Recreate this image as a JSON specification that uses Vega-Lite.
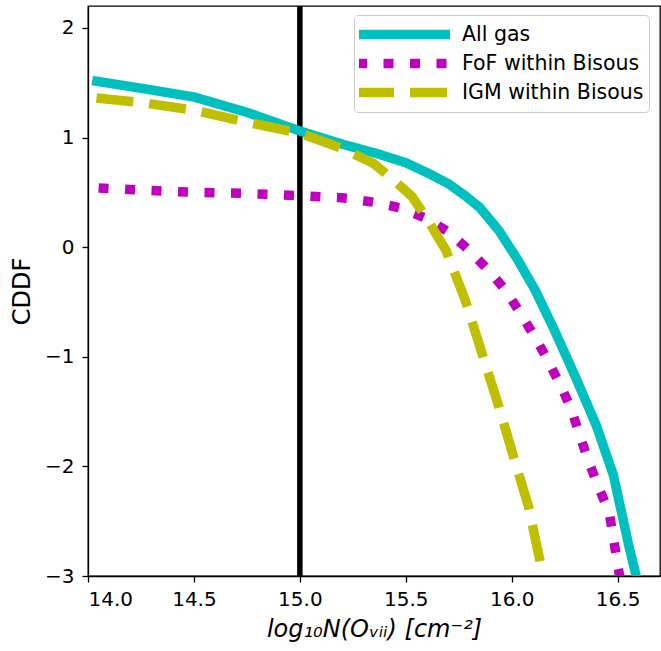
{
  "$schema": "https://vega.github.io/schema/vega-lite/v6.json",
  "width": 572,
  "height": 570,
  "autosize": {"type": "none"},
  "padding": {"left": 88, "top": 6, "right": 1, "bottom": 75},
  "background": "white",
  "config": {
    "font": "DejaVu Sans",
    "view": {"stroke": "black", "strokeWidth": 1.3},
    "axis": {
      "domain": true, "domainColor": "black", "domainWidth": 1.3,
      "ticks": true, "tickColor": "black", "tickWidth": 1.3, "tickSize": 6,
      "grid": false,
      "labelFont": "DejaVu Sans", "labelFontSize": 20, "labelColor": "black",
      "labelPadding": 7,
      "titleFont": "DejaVu Sans", "titleFontSize": 24, "titleFontWeight": "normal", "titleColor": "black"
    },
    "legend": {
      "labelFont": "DejaVu Sans", "labelFontSize": 20.5, "labelColor": "black", "labelLimit": 400
    }
  },
  "datasets": {
    "curves": [
      {"series": "All gas", "x": 14.02, "y": 1.52},
      {"series": "All gas", "x": 14.25, "y": 1.45},
      {"series": "All gas", "x": 14.5, "y": 1.37},
      {"series": "All gas", "x": 14.75, "y": 1.23},
      {"series": "All gas", "x": 15.0, "y": 1.06},
      {"series": "All gas", "x": 15.2, "y": 0.94},
      {"series": "All gas", "x": 15.37, "y": 0.85},
      {"series": "All gas", "x": 15.5, "y": 0.77},
      {"series": "All gas", "x": 15.6, "y": 0.68},
      {"series": "All gas", "x": 15.7, "y": 0.58},
      {"series": "All gas", "x": 15.78, "y": 0.47},
      {"series": "All gas", "x": 15.85, "y": 0.36},
      {"series": "All gas", "x": 15.94, "y": 0.15},
      {"series": "All gas", "x": 16.03, "y": -0.12},
      {"series": "All gas", "x": 16.11, "y": -0.39},
      {"series": "All gas", "x": 16.2, "y": -0.75},
      {"series": "All gas", "x": 16.3, "y": -1.18},
      {"series": "All gas", "x": 16.4, "y": -1.63},
      {"series": "All gas", "x": 16.48, "y": -2.08},
      {"series": "All gas", "x": 16.55, "y": -2.7},
      {"series": "All gas", "x": 16.6, "y": -3.1},
      {"series": "FoF within Bisous", "x": 14.05, "y": 0.54},
      {"series": "FoF within Bisous", "x": 14.25, "y": 0.52},
      {"series": "FoF within Bisous", "x": 14.5, "y": 0.5},
      {"series": "FoF within Bisous", "x": 14.75, "y": 0.49},
      {"series": "FoF within Bisous", "x": 15.0, "y": 0.47},
      {"series": "FoF within Bisous", "x": 15.2, "y": 0.45},
      {"series": "FoF within Bisous", "x": 15.35, "y": 0.41},
      {"series": "FoF within Bisous", "x": 15.47, "y": 0.36},
      {"series": "FoF within Bisous", "x": 15.6, "y": 0.26},
      {"series": "FoF within Bisous", "x": 15.7, "y": 0.14},
      {"series": "FoF within Bisous", "x": 15.8, "y": -0.03},
      {"series": "FoF within Bisous", "x": 15.89, "y": -0.21},
      {"series": "FoF within Bisous", "x": 15.97, "y": -0.39},
      {"series": "FoF within Bisous", "x": 16.04, "y": -0.6},
      {"series": "FoF within Bisous", "x": 16.11, "y": -0.82},
      {"series": "FoF within Bisous", "x": 16.17, "y": -1.03},
      {"series": "FoF within Bisous", "x": 16.23, "y": -1.26},
      {"series": "FoF within Bisous", "x": 16.28, "y": -1.47},
      {"series": "FoF within Bisous", "x": 16.32, "y": -1.71},
      {"series": "FoF within Bisous", "x": 16.36, "y": -1.94},
      {"series": "FoF within Bisous", "x": 16.41, "y": -2.19},
      {"series": "FoF within Bisous", "x": 16.46, "y": -2.42},
      {"series": "FoF within Bisous", "x": 16.48, "y": -2.65},
      {"series": "FoF within Bisous", "x": 16.5, "y": -2.9},
      {"series": "FoF within Bisous", "x": 16.52, "y": -3.1},
      {"series": "IGM within Bisous", "x": 14.04, "y": 1.36},
      {"series": "IGM within Bisous", "x": 14.25, "y": 1.32},
      {"series": "IGM within Bisous", "x": 14.5, "y": 1.25},
      {"series": "IGM within Bisous", "x": 14.75, "y": 1.14},
      {"series": "IGM within Bisous", "x": 15.0, "y": 1.04},
      {"series": "IGM within Bisous", "x": 15.2, "y": 0.9},
      {"series": "IGM within Bisous", "x": 15.35, "y": 0.76},
      {"series": "IGM within Bisous", "x": 15.45, "y": 0.6},
      {"series": "IGM within Bisous", "x": 15.53, "y": 0.46},
      {"series": "IGM within Bisous", "x": 15.6, "y": 0.26},
      {"series": "IGM within Bisous", "x": 15.69, "y": -0.03},
      {"series": "IGM within Bisous", "x": 15.78, "y": -0.48},
      {"series": "IGM within Bisous", "x": 15.86, "y": -0.97},
      {"series": "IGM within Bisous", "x": 15.94, "y": -1.46},
      {"series": "IGM within Bisous", "x": 16.01, "y": -1.92},
      {"series": "IGM within Bisous", "x": 16.08, "y": -2.37},
      {"series": "IGM within Bisous", "x": 16.12, "y": -2.74},
      {"series": "IGM within Bisous", "x": 16.16, "y": -3.1}
    ],
    "marker": [{"x": 15.0}]
  },
  "layer": [
    {
      "data": {"name": "marker"},
      "mark": {"type": "rule", "color": "black", "strokeWidth": 5.5},
      "encoding": {
        "x": {"field": "x", "type": "quantitative", "scale": {"domain": [14, 16.7], "nice": false, "zero": false}}
      }
    },
    {
      "data": {"name": "curves"},
      "mark": {"type": "line", "strokeWidth": 9.5, "clip": true, "strokeCap": "butt"},
      "encoding": {
        "x": {
          "field": "x", "type": "quantitative",
          "scale": {"domain": [14, 16.7], "nice": false, "zero": false},
          "axis": {"values": [14.0, 14.5, 15.0, 15.5, 16.0, 16.5], "format": ".1f", "title": "log₁₀N(Oᵥᵢᵢ) [cm⁻²]", "titleFontStyle": "italic", "titlePadding": 8}
        },
        "y": {
          "field": "y", "type": "quantitative",
          "scale": {"domain": [-3, 2.2], "nice": false, "zero": false},
          "axis": {"values": [-3, -2, -1, 0, 1, 2], "format": "d", "title": "CDDF", "titlePadding": 10, "labelPadding": 8}
        },
        "color": {
          "field": "series", "type": "nominal",
          "scale": {"domain": ["All gas", "FoF within Bisous", "IGM within Bisous"], "range": ["#00BFBF", "#BF00BF", "#BFBF00"]},
          "legend": {
            "title": null, "orient": "none", "legendX": 266, "legendY": 9,
            "symbolType": "M-2.45,0H16.15", "symbolSize": 100, "symbolStrokeWidth": 9.5,
            "labelOffset": 82.5, "padding": 5, "rowPadding": 0, "clipHeight": 29,
            "fillColor": "white", "strokeColor": "#cccccc", "cornerRadius": 4
          }
        },
        "strokeDash": {
          "field": "series", "type": "nominal",
          "scale": {"domain": ["All gas", "FoF within Bisous", "IGM within Bisous"], "range": [[1, 0], [10, 16.5], [37, 16]]},
          "legend": {
            "title": null, "orient": "none", "legendX": 266, "legendY": 9,
            "symbolType": "M-2.45,0H16.15", "symbolSize": 100, "symbolStrokeWidth": 9.5,
            "labelOffset": 82.5, "padding": 5, "rowPadding": 0, "clipHeight": 29,
            "fillColor": "white", "strokeColor": "#cccccc", "cornerRadius": 4
          }
        }
      }
    }
  ]
}
